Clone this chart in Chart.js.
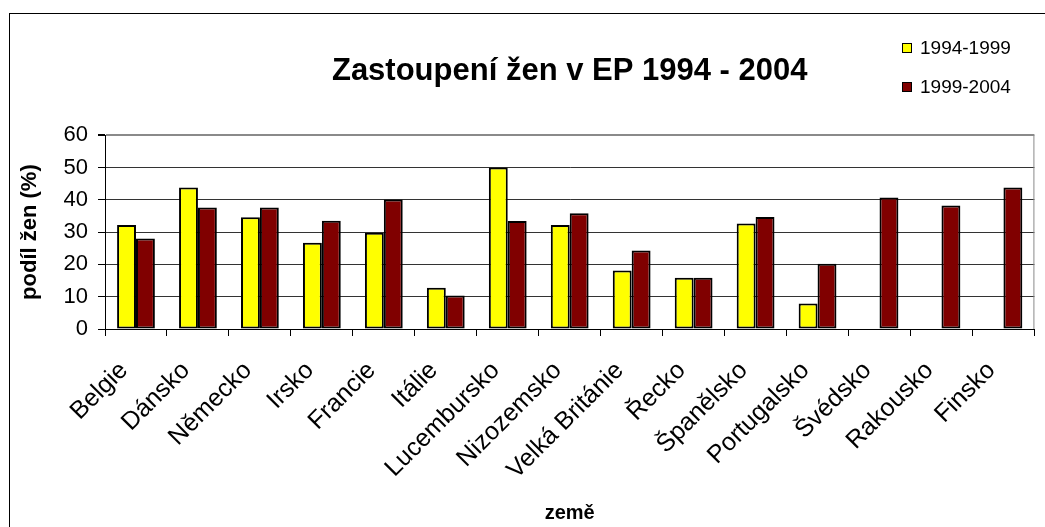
<!DOCTYPE html>
<html>
<head>
<meta charset="utf-8">
<script src="https://cdn.jsdelivr.net/npm/chart.js@4.4.1/dist/chart.umd.min.js"></script>
<style>
  html, body { margin: 0; padding: 0; background: #fff; overflow: hidden; }
  #wrap { position: relative; width: 1045px; height: 527px; }
</style>
</head>
<body>
<div id="wrap"><canvas id="chart"></canvas></div>
<script>
const FONT = "'Liberation Sans', Arial, sans-serif";

const countries = ['Belgie', 'Dánsko', 'Německo', 'Irsko', 'Francie', 'Itálie', 'Lucembursko',
    'Nizozemsko', 'Velká Británie', 'Řecko', 'Španělsko', 'Portugalsko', 'Švédsko', 'Rakousko', 'Finsko'];
const period1 = '1994-1999';
const period2 = '1999-2004';
const share1994 = [32.2, 43.8, 34.6, 26.7, 29.8, 12.8, 50.0, 32.2, 18.1, 15.9, 32.7, 7.9, null, null, null];
const share1999 = [28.0, 37.6, 37.6, 33.5, 40.1, 10.4, 33.4, 35.8, 24.3, 15.9, 34.7, 20.2, 40.7, 38.2, 43.8];

// outer frame + grey plot border on the right like the old excel chart
const framePlugin = {
    id: 'frame',
    beforeDraw(chart) {
        const c = chart.ctx;
        c.save();
        c.strokeStyle = '#000';
        c.lineWidth = 1;
        c.strokeRect(9.5, 13.5, 3000, 3000);
        c.restore();
    },
    afterDatasetsDraw(chart) {
        const c = chart.ctx, a = chart.chartArea;
        c.save();
        c.strokeStyle = '#8a8a8a';
        c.lineWidth = 1;
        c.beginPath();
        c.moveTo(a.right - 0.5, a.top);
        c.lineTo(a.right - 0.5, a.bottom);
        c.stroke();
        c.restore();
    }
};

// legend drawn in the top right corner
const legendPlugin = {
    id: 'cornerLegend',
    afterDraw(chart) {
        const c = chart.ctx;
        c.save();
        c.font = '19px ' + FONT;
        c.textBaseline = 'middle';
        chart.data.datasets.forEach((ds, i) => {
            const y = 48 + i * 39;
            c.fillStyle = ds.backgroundColor;
            c.fillRect(902, y - 5, 10, 10);
            c.strokeStyle = '#000';
            c.lineWidth = 1;
            c.strokeRect(902.5, y - 4.5, 9, 9);
            c.fillStyle = '#000';
            c.fillText(ds.label, 920, y + 1);
        });
        c.restore();
    }
};

new Chart(document.getElementById('chart'), {
    type: 'bar',
    data: {
        labels: countries,
        datasets: [{
            label: period1,
            data: share1994,
            backgroundColor: '#FFFF00',
            borderColor: '#000',
            borderWidth: 2,
            borderSkipped: false
        }, {
            label: period2,
            data: share1999,
            backgroundColor: '#800000',
            borderColor: '#000',
            borderWidth: 2,
            borderSkipped: false
        }]
    },
    options: {
        responsive: true,
        maintainAspectRatio: false,
        animation: false,
        datasets: { bar: { categoryPercentage: 0.61, barPercentage: 1.0 } },
        layout: { padding: { top: 0, right: 1, bottom: 0, left: 0 } },
        plugins: {
            legend: { display: false },
            tooltip: { enabled: false },
            title: {
                display: true,
                text: 'Zastoupení žen v EP 1994 - 2004',
                fullSize: false,
                color: '#000',
                font: { family: FONT, size: 31, weight: 'bold' },
                padding: { top: 53, bottom: 45 }
            }
        },
        scales: {
            x: {
                afterFit(s) { s.height = 198; },
                border: { color: '#000', width: 1 },
                grid: { drawOnChartArea: false, drawTicks: true, tickLength: 7, tickColor: '#000' },
                ticks: {
                    autoSkip: false,
                    minRotation: 45,
                    maxRotation: 45,
                    padding: 20,
                    labelOffset: -12,
                    color: '#000',
                    font: { family: FONT, size: 25 }
                },
                title: {
                    display: true,
                    text: 'země',
                    color: '#000',
                    font: { family: FONT, size: 20, weight: 'bold' },
                    padding: { top: 0, bottom: 2 }
                }
            },
            y: {
                min: 0,
                max: 60,
                afterFit(s) { s.width = 105; },
                border: { color: '#000', width: 1 },
                grid: {
                    color: ctx => ctx.tick && ctx.tick.value === 60 ? '#8a8a8a' : '#333',
                    lineWidth: ctx => ctx.tick && ctx.tick.value === 60 ? 2 : 1,
                    tickLength: 7,
                    tickColor: '#000'
                },
                ticks: {
                    stepSize: 10,
                    padding: 10,
                    color: '#000',
                    font: { family: FONT, size: 22 }
                },
                title: {
                    display: true,
                    text: 'podíl žen (%)',
                    color: '#000',
                    font: { family: FONT, size: 22, weight: 'bold' },
                    padding: { top: 17, bottom: 0 }
                }
            }
        }
    },
    plugins: [framePlugin, legendPlugin]
});
</script>
</body>
</html>
